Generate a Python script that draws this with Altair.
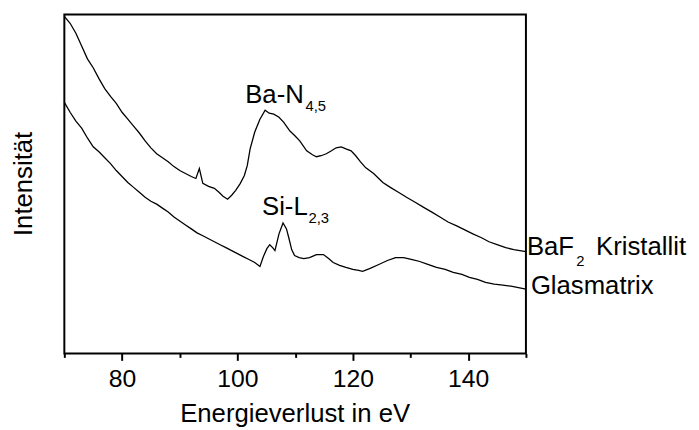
import altair as alt
import pandas as pd

# ---- data (energy loss in eV, intensity in arbitrary units) ----
upper_ev = [70, 71, 72, 73, 74, 75, 76, 77, 78, 79, 80, 81, 82, 83, 84, 85, 86, 87, 88, 89,
            90, 91, 92, 92.8, 93.4, 94.0, 95.0, 96.0, 96.8, 97.5, 98.3, 99.0, 99.7,
            100.5, 101.2, 101.7, 102.2, 103.0, 103.9, 104.8, 105.5, 106.3, 107.2,
            108.0, 109.1, 110.0, 110.8, 112.0, 113.0, 113.7, 114.5, 115.4, 116.3,
            117.1, 118.0, 118.8, 119.7, 120.5, 121.3, 122.2, 123.6, 125.2, 126.5,
            127.9, 129.3, 130.8, 132.2, 133.7, 135.1, 136.5, 138.0, 139.4, 140.8,
            142.3, 143.6, 145.0, 146.5, 147.9, 150.0]
upper_int = [341, 334, 324, 311, 298, 289, 278, 268, 260, 253, 244, 237, 230, 223, 215, 208,
             202, 198, 194, 189, 185, 182, 179, 177, 187, 172, 169, 167, 163, 159, 156, 160,
             165, 172, 180, 190, 207, 224, 237, 246, 243, 242, 239, 234, 225, 220, 215, 205,
             201, 199, 200, 202, 205, 208, 209, 207, 205, 200, 194, 188, 182, 173, 168, 163,
             158, 153, 148, 143, 138, 133, 129, 125, 121, 117, 113, 110, 107, 105, 103]

lower_ev = [70, 71, 72, 73, 74, 75, 76, 77, 78, 79, 80, 81, 82, 83, 84, 85, 86, 87, 88, 89,
            90, 91, 92, 93, 94, 95, 96, 97, 98, 99, 100, 101, 102, 103,
            103.9, 104.5, 105.1, 105.6, 106.1, 106.5, 107.2, 107.9, 108.5, 108.9,
            109.4, 109.9, 110.7, 111.5, 112.5, 113.7, 114.9, 115.8, 116.6, 117.7,
            118.8, 120.0, 121.0, 121.7, 123.0, 124.5, 126.0, 127.4, 128.8, 130.3,
            131.6, 133.0, 134.5, 136.0, 137.4, 138.9, 140.2, 141.6, 143.0, 144.5,
            146.0, 147.4, 150.0]
lower_int = [254, 244, 235, 228, 218, 209, 204, 198, 192, 185, 179, 173, 168, 163, 158, 154,
             151, 147, 143, 138, 134, 130, 126, 122, 119, 116, 113, 110, 107, 104, 101, 98,
             95, 92,
             88, 98, 106, 110, 107, 104, 121, 132, 126, 117,
             105, 99, 97, 96, 97, 100, 100, 96, 92, 89,
             87, 85, 84, 83, 86, 90, 94, 97, 97, 95,
             93, 90, 87, 85, 82, 80, 77, 75, 72, 70,
             69, 68, 65]

series_names = ["BaF2 Kristallit", "Glasmatrix"]
x_ticks = [70, 80, 90, 100, 110, 120, 130, 140, 150]
x_title = "Energieverlust in eV"
y_title = "Intensität"

FONT = "Liberation Sans"

df = pd.concat([
    pd.DataFrame({"E": upper_ev, "I": upper_int, "Serie": series_names[0]}),
    pd.DataFrame({"E": lower_ev, "I": lower_int, "Serie": series_names[1]}),
], ignore_index=True)

x_axis = alt.Axis(
    values=x_ticks,
    labelExpr="datum.value % 20 == 0 ? datum.label : ''",
    tickSize={"condition": {"test": "datum.value % 20 == 0", "value": 7}, "value": 4},
    tickColor="black", tickWidth=2, domain=False, grid=False,
    labelFont=FONT, labelFontSize=25, labelColor="black", labelPadding=6,
    labelFlush=False, labelOverlap=False,
    title=x_title, titleFont=FONT, titleFontSize=26, titleFontWeight="normal",
    titleColor="black", titleX=233, titleY=69, titleAlign="center",
    titleBaseline="alphabetic",
)
y_axis = alt.Axis(
    labels=False, ticks=False, domain=False, grid=False,
    title=y_title, titleFont=FONT, titleFontSize=26, titleFontWeight="normal",
    titleColor="black", titleAngle=270, titleX=-33, titleY=171,
    titleAlign="center", titleBaseline="alphabetic",
)

lines = alt.Chart(df).mark_line(color="black", strokeWidth=1.3).encode(
    x=alt.X("E:Q", scale=alt.Scale(domain=[70, 150], nice=False, zero=False), axis=x_axis),
    y=alt.Y("I:Q", scale=alt.Scale(domain=[0, 343], nice=False, zero=False), axis=y_axis),
    detail="Serie:N",
)


def label(text, x, y, size):
    return alt.Chart(pd.DataFrame({"t": [text]})).mark_text(
        align="left", baseline="alphabetic", font=FONT, fontSize=size, color="black"
    ).encode(x=alt.value(x), y=alt.value(y), text="t:N")


labels = [
    label("Ba-N", 183, 90, 26),
    label("4,5", 244, 98, 15),
    label("Si-L", 200, 203, 26),
    label("2,3", 247, 211, 15),
    label("BaF", 468, 243, 26),
    label("2", 518, 255, 15),
    label("Kristallit", 538, 243, 26),
    label("Glasmatrix", 472, 283, 26),
]

chart = alt.layer(lines, *labels).properties(
    width=467, height=343,
    autosize=alt.AutoSizeParams(type="none"),
    padding={"left": 57, "top": 4, "right": 167, "bottom": 75},
).configure_view(stroke="black", strokeWidth=2)

chart.save("out.html", embed_options={"renderer": "svg", "actions": False})
